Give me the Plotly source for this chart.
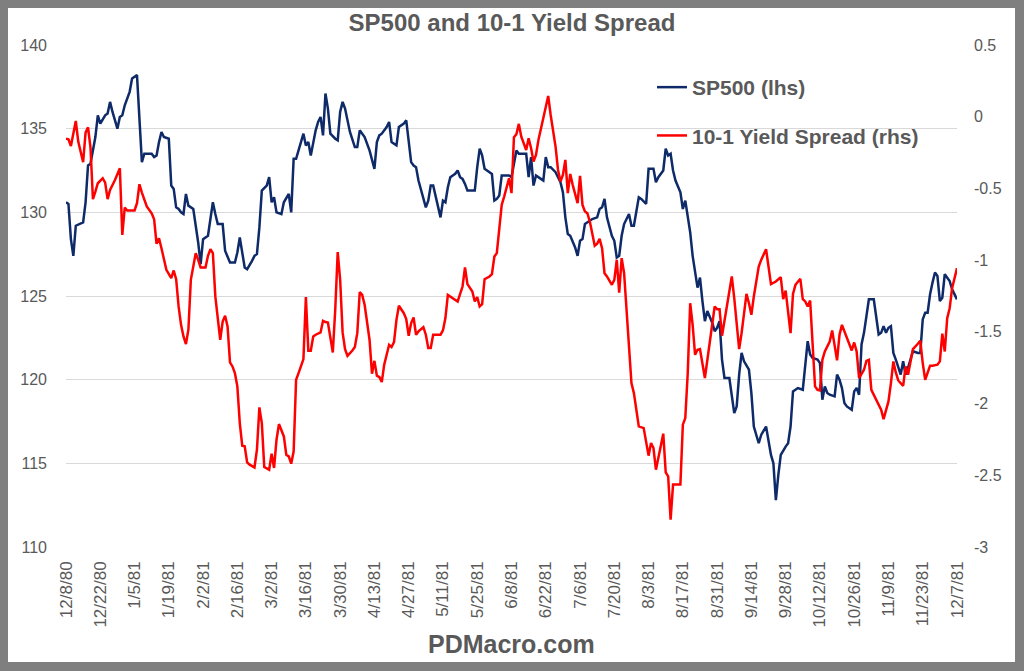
import pandas as pd
import plotly.graph_objects as go

# ---------------- data ----------------
start_date = "1980-12-08"

# day offsets from 12/8/80 and S&P 500 level (left axis)
sp_day = [0,1,2,3,4,7,8,9,10,11,12,13,14,16,17,18,19,21,22,23,24,26,27,29,30,31,32,33,35,36,37,38,39,40,42,43,44,45,46,47,48,49,50,52,53,54,55,56,58,60,61,62,64,65,67,69,70,71,73,74,76,77,78,79,80,82,83,84,85,86,88,89,91,
          92,93,94,95,96,97,98,99,100,101,102,103,104,105,106,107,108,110,111,112,113,114,115,116,118,119,120,121,122,124,125,126,127,128,129,131,132,133,134,135,136,138,139,140,141,142,143,144,146,147,148,149,150,151,152,153,154,155,156,157,159,160,161,162,163,164,166,167,168,169,170,171,172,174,175,176,177,178,179,181,182,184,185,187,188,189,
          190,191,192,194,195,196,197,198,200,201,202,203,204,205,206,208,209,210,211,212,214,215,217,218,219,220,221,223,224,225,226,227,228,230,231,232,234,235,237,238,240,241,242,244,245,246,247,248,249,251,252,253,255,256,258,259,260,261,262,263,264,265,266,267,268,269,271,273,274,275,276,
          277,279,280,281,283,284,286,287,288,289,290,291,292,294,295,296,297,298,299,301,302,303,304,305,307,308,309,310,311,312,314,315,316,317,318,319,321,322,323,324,325,326,327,328,330,331,332,333,334,335,336,337,338,339,340,341,342,343,344,345,346,348,349,350,351,352,353,354,355,356,357,358,359,361,362,363,364]
sp500 = [130.6,130.5,128.4,127.4,129.2,129.4,130.6,132.8,132.9,133.6,134.5,135.8,135.3,135.8,135.9,136.6,136.0,135.0,135.7,135.8,136.4,137.2,138.0,138.2,135.7,133.0,133.5,133.5,133.5,133.3,133.4,134.2,134.8,134.5,134.4,131.6,131.4,130.3,130.2,130.0,129.9,131.1,130.4,130.2,129.3,128.2,126.9,128.4,128.6,130.6,129.9,129.3,129.3,127.7,127.0,127.0,127.6,128.5,126.7,126.6,127.1,127.4,127.5,129.1,131.3,131.6,132.1,130.6,130.9,130.0,129.9,130.6,131.1,
         130.0,133.2,133.2,133.7,134.2,134.7,134.0,134.2,133.4,134.2,134.9,135.4,135.7,134.6,137.1,136.2,134.7,134.4,134.3,136.0,136.6,136.2,135.5,134.8,133.9,133.9,134.9,134.7,134.5,133.7,133.1,132.6,134.2,134.6,134.7,135.1,135.4,134.2,134.1,134.0,135.1,135.3,135.5,134.1,133.0,132.8,132.7,131.9,130.8,130.3,130.7,131.6,131.6,131.0,130.3,129.7,130.7,130.6,131.5,132.1,132.3,132.5,132.1,132.0,131.7,131.3,131.3,131.3,132.7,133.8,133.4,132.6,132.5,132.3,130.7,130.8,131.0,132.2,132.2,132.2,132.1,133.7,133.5,133.5,133.5,132.1,
         133.3,131.6,132.2,132.0,131.9,133.3,132.7,132.7,132.4,132.1,131.8,131.2,129.7,128.7,128.6,127.9,127.4,128.3,128.4,129.3,129.5,129.6,129.7,130.2,130.3,130.8,129.7,128.6,128.3,127.3,127.4,128.6,129.3,129.9,129.2,129.2,130.9,130.8,130.5,132.6,132.6,131.8,132.1,132.5,133.8,133.4,133.5,132.5,131.9,131.2,130.2,130.7,128.8,127.4,125.5,126.1,124.7,123.5,124.1,123.8,123.4,122.9,123.1,123.5,121.2,120.1,120.1,118.0,118.4,120.3,121.6,
         121.1,120.6,119.2,117.2,116.2,116.7,117.2,116.4,115.5,115.0,112.8,114.3,115.5,116.0,116.2,117.2,119.3,119.4,119.5,119.4,121.0,122.3,121.5,121.3,121.2,121.0,118.8,119.6,119.2,119.1,119.0,120.3,120.0,119.5,118.6,118.4,118.2,119.3,119.5,119.1,122.1,122.8,123.8,124.8,124.8,123.8,122.7,122.8,123.2,122.8,123.1,123.2,121.6,121.2,120.7,120.3,121.1,120.3,120.7,121.2,121.7,121.6,121.6,123.6,124.0,124.0,125.1,125.8,126.4,126.2,124.7,124.9,126.3,125.9,125.4,125.1,124.8]

# day offsets from 12/8/80 and 10-1 yield spread (right axis)
spread_day = [0,1,2,4,5,7,8,9,10,11,12,13,15,16,17,18,20,22,23,24,25,26,28,29,30,31,32,33,35,36,37,38,39,40,41,43,44,45,46,47,48,49,50,51,53,54,55,57,58,59,60,61,63,64,65,66,67,68,69,70,71,72,73,74,75,77,78,79,80,81,82,83,84,85,86,87,89,90,
              91,92,93,94,95,96,97,98,99,100,101,102,104,105,106,107,109,110,111,112,113,114,115,117,118,119,120,121,122,124,125,126,127,128,129,130,132,133,134,135,136,138,139,140,141,142,143,144,146,147,148,149,150,152,153,154,155,156,158,160,162,163,164,166,167,168,169,170,171,173,174,175,176,177,178,179,180,181,182,183,184,185,186,188,189,
              190,191,192,193,195,197,198,200,201,202,203,204,205,206,207,209,210,211,212,213,214,216,217,218,219,220,221,223,224,225,226,227,228,229,230,231,232,233,234,236,238,239,240,241,242,243,244,245,246,247,248,249,251,252,253,254,255,256,257,258,259,261,262,263,264,265,266,267,268,269,271,272,273,274,275,276,277,278,279,
              280,281,283,284,286,288,289,290,292,293,294,296,297,298,300,301,302,303,304,305,306,307,308,309,310,312,313,315,316,317,319,321,322,323,324,326,327,328,329,331,333,334,336,337,338,339,340,342,343,344,345,346,348,349,350,351,353,354,356,357,358,359,360,361,362,364]
spread = [-0.153,-0.157,-0.204,-0.03,-0.173,-0.317,-0.111,-0.074,-0.213,-0.575,-0.522,-0.464,-0.429,-0.459,-0.575,-0.510,-0.441,-0.359,-0.824,-0.633,-0.654,-0.654,-0.654,-0.603,-0.471,-0.529,-0.580,-0.626,-0.673,-0.715,-0.886,-0.847,-0.917,-0.991,-1.068,-1.126,-1.072,-1.133,-1.323,-1.451,-1.532,-1.585,-1.485,-1.137,-0.951,-0.998,-1.051,-1.051,-0.970,-0.924,-0.951,-1.253,-1.555,-1.428,-1.388,-1.462,-1.713,-1.741,-1.788,-1.880,-2.136,-2.294,-2.298,-2.410,-2.426,-2.445,-2.322,-2.027,-2.136,-2.442,-2.449,-2.461,-2.350,-2.449,-2.252,-2.143,-2.229,-2.357,
          -2.368,-2.419,-2.333,-1.834,-1.788,-1.741,-1.690,-1.258,-1.632,-1.632,-1.532,-1.520,-1.504,-1.423,-1.432,-1.435,-1.644,-1.342,-0.944,-1.137,-1.504,-1.620,-1.667,-1.630,-1.606,-1.509,-1.223,-1.242,-1.311,-1.555,-1.792,-1.702,-1.806,-1.815,-1.850,-1.729,-1.590,-1.606,-1.572,-1.416,-1.318,-1.370,-1.411,-1.527,-1.439,-1.400,-1.520,-1.497,-1.467,-1.520,-1.613,-1.613,-1.520,-1.520,-1.520,-1.490,-1.404,-1.242,-1.265,-1.288,-1.184,-1.051,-1.167,-1.219,-1.288,-1.258,-1.323,-1.307,-1.133,-1.114,-1.098,-0.975,-0.951,-0.777,-0.615,-0.557,-0.487,-0.429,-0.533,-0.143,-0.122,-0.050,-0.139,-0.232,-0.150,
          -0.220,-0.313,-0.266,-0.162,0.001,0.145,0.012,-0.208,-0.371,-0.452,-0.406,-0.301,-0.533,-0.399,-0.475,-0.603,-0.413,-0.615,-0.661,-0.673,-0.731,-0.900,-0.886,-0.852,-0.917,-1.091,-1.114,-1.172,-1.137,-0.998,-1.226,-0.986,-1.091,-1.323,-1.579,-1.857,-1.927,-2.055,-2.159,-2.171,-2.363,-2.275,-2.310,-2.461,-2.380,-2.287,-2.210,-2.480,-2.507,-2.809,-2.565,-2.565,-2.565,-2.147,-2.101,-1.788,-1.300,-1.451,-1.660,-1.625,-1.620,-1.822,-1.695,-1.567,-1.439,-1.323,-1.342,-1.342,-1.527,-1.416,-1.207,-1.114,-1.265,-1.462,-1.620,-1.509,-1.374,-1.235,-1.300,
          -1.381,-1.253,-1.044,-0.998,-0.924,-1.167,-1.156,-1.149,-1.119,-1.272,-1.212,-1.509,-1.235,-1.172,-1.130,-1.272,-1.288,-1.323,-1.281,-1.555,-1.880,-1.904,-1.908,-1.695,-1.637,-1.567,-1.490,-1.699,-1.520,-1.451,-1.544,-1.630,-1.574,-1.637,-1.822,-1.764,-1.702,-1.695,-1.904,-1.973,-2.043,-2.108,-1.985,-1.857,-1.706,-1.783,-1.839,-1.876,-1.741,-1.799,-1.695,-1.620,-1.583,-1.562,-1.718,-1.834,-1.736,-1.736,-1.729,-1.706,-1.513,-1.637,-1.404,-1.335,-1.195,-1.056]

x_tick_labels = ["12/8/80","12/22/80","1/5/81","1/19/81","2/2/81","2/16/81","3/2/81","3/16/81","3/30/81",
                 "4/13/81","4/27/81","5/11/81","5/25/81","6/8/81","6/22/81","7/6/81","7/20/81","8/3/81",
                 "8/17/81","8/31/81","9/14/81","9/28/81","10/12/81","10/26/81","11/9/81","11/23/81","12/7/81"]
left_ticks = [110, 115, 120, 125, 130, 135, 140]
right_ticks = [0.5, 0, -0.5, -1, -1.5, -2, -2.5, -3]
right_tick_labels = ["0.5", "0", "-0.5", "-1", "-1.5", "-2", "-2.5", "-3"]

# ---------------- build ----------------
t0 = pd.Timestamp(start_date)
sp_dates = t0 + pd.to_timedelta(sp_day, unit="D")
spread_dates = t0 + pd.to_timedelta(spread_day, unit="D")
tick_dates = pd.to_datetime(x_tick_labels, format="%m/%d/%y")

GREY = "#595959"
FONT = "Liberation Sans, Arial, sans-serif"

fig = go.Figure()
fig.add_trace(go.Scatter(x=sp_dates, y=sp500, name="SP500 (lhs)", mode="lines",
                         line=dict(color="#0E2A69", width=2.5), yaxis="y", legendgroup="a"))
fig.add_trace(go.Scatter(x=spread_dates, y=spread, name="10-1 Yield Spread (rhs)", mode="lines",
                         line=dict(color="#FF0000", width=2.5), yaxis="y2", legendgroup="b"))

W, H = 1024, 671
L, R, T, B = 66, 67, 45, 124
pw, ph = W - L - R, H - T - B

def px_x(p):
    return (p - L) / pw

def px_y(p):
    return (H - B - p) / ph

fig.update_layout(
    width=W, height=H,
    margin=dict(l=L, r=R, t=T, b=B, pad=0),
    paper_bgcolor="#7F7F7F",
    plot_bgcolor="white",
    title=dict(text="<b>SP500 and 10-1 Yield Spread</b>", x=0.5, xanchor="center",
               y=1 - 23 / H, yanchor="middle", yref="container",
               font=dict(family=FONT, size=24, color=GREY)),
    shapes=[dict(type="rect", xref="paper", yref="paper", layer="below",
                 x0=px_x(8), x1=px_x(1015), y0=px_y(662), y1=px_y(8),
                 fillcolor="white", line=dict(width=0))],
    annotations=[dict(text="<b>PDMacro.com</b>", xref="paper", yref="paper",
                      x=0.5, y=px_y(644), xanchor="center", yanchor="middle", showarrow=False,
                      font=dict(family=FONT, size=25, color=GREY))],
    xaxis=dict(type="date", range=[tick_dates[0], tick_dates[-1]],
               tickvals=tick_dates, ticktext=x_tick_labels, tickangle=-90,
               tickfont=dict(family=FONT, size=17, color=GREY), ticklabelstandoff=10,
               showgrid=False, zeroline=False, showline=False, ticks=""),
    yaxis=dict(range=[110, 140], tickvals=left_ticks, showgrid=True, gridcolor="#D9D9D9", gridwidth=1,
               zeroline=False, showline=False, ticks="",
               tickfont=dict(family=FONT, size=16, color=GREY), ticklabelstandoff=18),
    yaxis2=dict(range=[-3, 0.5], overlaying="y", side="right", tickvals=right_ticks,
                ticktext=right_tick_labels, showgrid=False, zeroline=False, showline=False, ticks="",
                tickfont=dict(family=FONT, size=16, color=GREY), ticklabelstandoff=16),
    legend=dict(x=px_x(652), y=px_y(67), xanchor="left", yanchor="top",
                bgcolor="rgba(0,0,0,0)", tracegroupgap=18,
                font=dict(family=FONT, size=21, color=GREY, weight="bold")),
    showlegend=True,
)

fig.write_html("out.html", post_script="document.body.style.margin='0';",
               config={"displayModeBar": False})
